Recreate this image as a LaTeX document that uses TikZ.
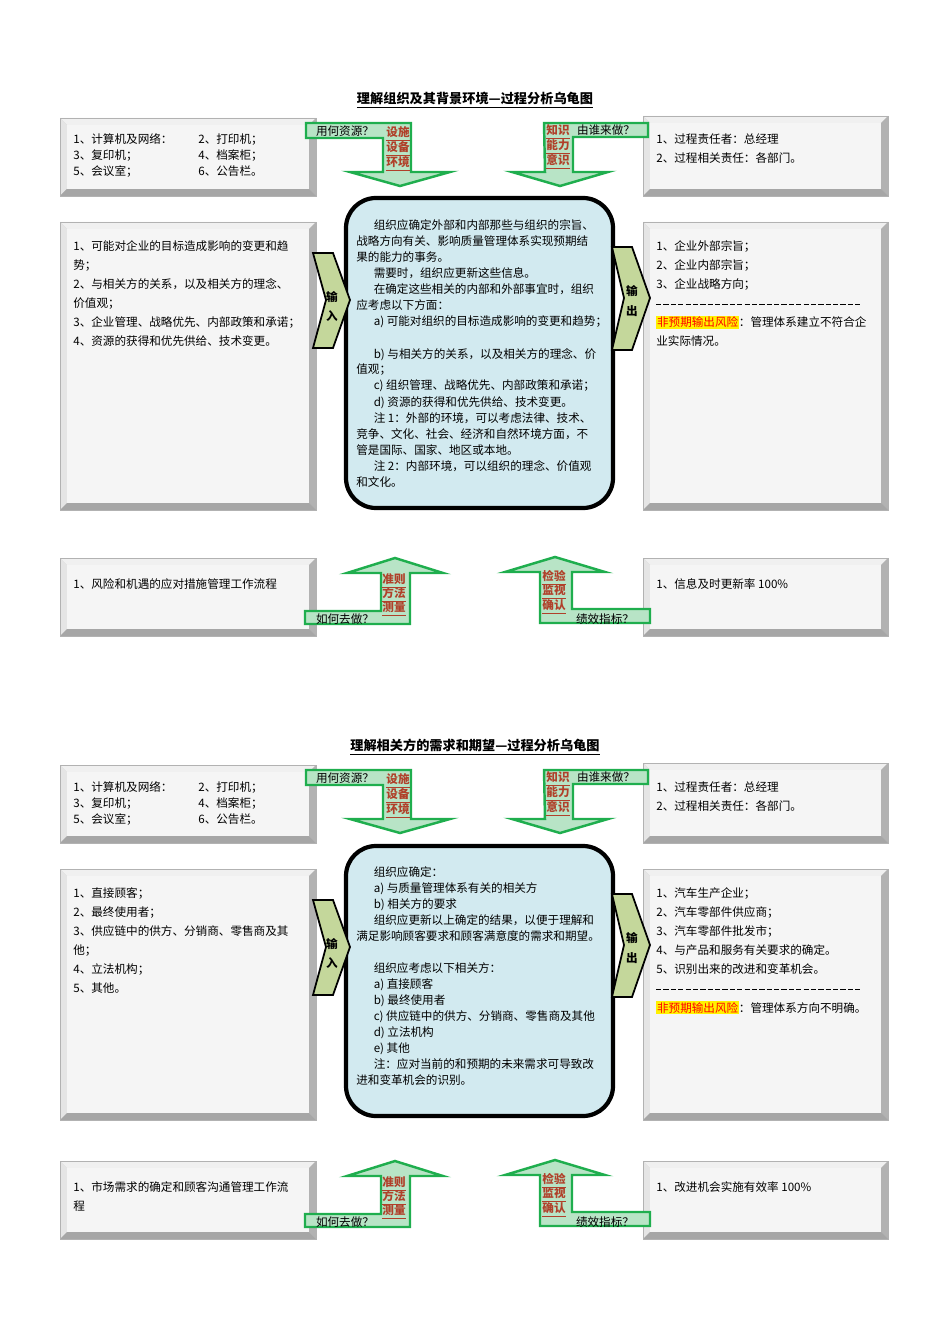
\documentclass[tikz,border=0pt]{standalone}
\usepackage{fontspec}
\setmainfont{Noto Sans CJK SC}
\usepackage{xcolor}
\usetikzlibrary{calc}
\definecolor{gfill}{HTML}{B8E4C6}
\definecolor{gline}{HTML}{1FAE4E}
\definecolor{lbl}{HTML}{B0402A}
\definecolor{cfill}{HTML}{D2EAF0}
\definecolor{ofill}{HTML}{C4D79B}
\begin{document}
\begin{tikzpicture}[x=0.02cm,y=-0.02cm,font=\fontsize{6.6pt}{8pt}\selectfont,
  garrow/.style={fill=gfill,draw=gline,line width=1.4pt,line join=miter},
  chev/.style={fill=ofill,draw=black,line width=1pt},
  cbox/.style={fill=cfill,draw=black,line width=2.4pt,rounded corners=0.6cm},
  tx/.style={anchor=base west,inner sep=0pt},
  lb/.style={inner sep=0pt,text=lbl,font=\fontsize{6.6pt}{8pt}\selectfont\bfseries},
  ttl/.style={inner sep=0pt,font=\fontsize{7.5pt}{9pt}\selectfont\bfseries}]
\useasboundingbox (0,0) rectangle (950,1344);
\newcommand\bev[4]{%
  \fill[gray!45] (#1,#2) rectangle (#3,#4);
  \fill[gray!12] (#1,#2) -- (#3,#2) -- ($(#3,#2)+(-7,7)$) -- ($(#1,#2)+(7,7)$) -- cycle;
  \fill[gray!20] (#1,#2) -- ($(#1,#2)+(7,7)$) -- ($(#1,#4)+(7,-7)$) -- (#1,#4) -- cycle;
  \fill[gray!60] (#3,#2) -- (#3,#4) -- ($(#3,#4)+(-7,-7)$) -- ($(#3,#2)+(-7,7)$) -- cycle;
  \fill[gray!70] (#1,#4) -- (#3,#4) -- ($(#3,#4)+(-7,-7)$) -- ($(#1,#4)+(7,-7)$) -- cycle;
  \fill[gray!8] ($(#1,#2)+(7,7)$) rectangle ($(#3,#4)+(-7,-7)$);
  \draw[gray!60,line width=0.3pt] (#1,#2) rectangle (#3,#4);}
\newcommand\U[1]{\underline{#1}}
\newcommand\toppart{%
  \bev{60}{118}{316}{196}\bev{643}{116}{888}{196}
  \node[tx] at (73,144) {1、计算机及网络：};\node[tx] at (198,144) {2、打印机；};
  \node[tx] at (73,160) {3、复印机；};\node[tx] at (198,160) {4、档案柜；};
  \node[tx] at (73,176) {5、会议室；};\node[tx] at (198,176) {6、公告栏。};
  \node[tx] at (656,144) {1、过程责任者：总经理};
  \node[tx] at (656,163) {2、过程相关责任：各部门。};
  \draw[garrow] (306,123)--(411,123)--(411,172)--(450,172)--(400,186)--(350,172)--(383,172)--(383,138)--(306,138)--cycle;
  \node[inner sep=0pt] (q1) at (345,131) {用何资源？};
  \node[lb] (r1) at (398,134) {\U{设施}};\node[lb] (r2) at (398,149) {\U{设备}};\node[lb] (r3) at (398,164) {\U{环境}};
  \draw[garrow] (544,123)--(648,123)--(648,137)--(573,137)--(573,172)--(608,172)--(560,186)--(512,172)--(545,172)--cycle;
  \node[inner sep=0pt] (q2) at (606,130) {由谁来做？};
  \node[lb] (k1) at (558,132) {\U{知识}};\node[lb] (k2) at (558,147) {\U{能力}};\node[lb] (k3) at (558,162) {\U{意识}};
  \draw[chev] (313,253)--(333,253)--(350,300)--(333,348)--(313,348)--(326,300)--cycle;
  \node[inner sep=0pt,font=\fontsize{6.6pt}{8pt}\selectfont\bfseries] (in1) at (332,297) {输};
  \node[inner sep=0pt,font=\fontsize{6.6pt}{8pt}\selectfont\bfseries] (in2) at (332,316) {入};
  \draw[chev] (612,247)--(632,247)--(650,298)--(632,350)--(612,350)--(624,298)--cycle;
  \node[inner sep=0pt,font=\fontsize{6.6pt}{8pt}\selectfont\bfseries] (out1) at (632,291) {输};
  \node[inner sep=0pt,font=\fontsize{6.6pt}{8pt}\selectfont\bfseries] (out2) at (632,311) {出};
}
\newcommand\botpart[2]{%
  \bev{60}{558}{316}{636}\bev{643}{558}{888}{636}
  \draw[garrow] (395,558)--(443,573)--(410,573)--(410,624)--(305,624)--(305,611)--(381,611)--(381,573)--(347,573)--cycle;
  \node[lb] (m1) at (394,581) {\U{准则}};\node[lb] (m2) at (394,595) {\U{方法}};\node[lb] (m3) at (394,609) {\U{测量}};
  \node[inner sep=0pt] (q3) at (345,619) {如何去做？};
  \draw[garrow] (555,557)--(605,572)--(572,572)--(572,609)--(650,609)--(650,623)--(540,623)--(540,572)--(505,572)--cycle;
  \node[lb] (c1) at (554,578) {\U{检验}};\node[lb] (c2) at (554,592) {\U{监视}};\node[lb] (c3) at (554,607) {\U{确认}};
  \node[inner sep=0pt] (q4) at (605,619) {绩效指标？};
  #1
  \node[tx] at (656,588) {#2};
}
\newcommand\risk{\setlength\fboxsep{0.4pt}\colorbox{yellow}{\textcolor{red}{非预期输出风险}}：}
% ---------------- section 1
\node[ttl] (t1) at (475,100) {\U{理解组织及其背景环境—过程分析乌龟图}};
\bev{60}{222}{316}{510}\bev{643}{222}{888}{510}
\draw[cbox] (346,198) rectangle (613,508);
\toppart
\botpart{\node[tx] at (73,588) {1、风险和机遇的应对措施管理工作流程};}{1、信息及时更新率 100\%}
\foreach \t [count=\i from 0] in {1、可能对企业的目标造成影响的变更和趋,势；,2、与相关方的关系，以及相关方的理念、,价值观；,3、企业管理、战略优先、内部政策和承诺；,4、资源的获得和优先供给、技术变更。}
  \node[tx] at (73,251+19*\i) {\t};
\foreach \t [count=\i from 0] in {1、企业外部宗旨；,2、企业内部宗旨；,3、企业战略方向；}
  \node[tx] at (656,251+19*\i) {\t};
\draw[dash pattern=on 3pt off 1.2pt,line width=0.4pt] (656,304) -- (860,304);
\node[tx] at (656,327) {\risk 管理体系建立不符合企};
\node[tx] at (656,346) {业实际情况。};
\foreach \t [count=\i from 0] in {\hspace*{1.5em}组织应确定外部和内部那些与组织的宗旨、,战略方向有关、影响质量管理体系实现预期结,果的能力的事务。,\hspace*{1.5em}需要时，组织应更新这些信息。,\hspace*{1.5em}在确定这些相关的内部和外部事宜时，组织,应考虑以下方面：,\hspace*{1.5em}a) 可能对组织的目标造成影响的变更和趋势；,,\hspace*{1.5em}b) 与相关方的关系，以及相关方的理念、价,值观；,\hspace*{1.5em}c) 组织管理、战略优先、内部政策和承诺；,\hspace*{1.5em}d) 资源的获得和优先供给、技术变更。,\hspace*{1.5em}注 1：外部的环境，可以考虑法律、技术、,竞争、文化、社会、经济和自然环境方面，不,管是国际、国家、地区或本地。,\hspace*{1.5em}注 2：内部环境，可以组织的理念、价值观,和文化。}
  \node[tx] at (356,230+16*\i) {\t};
% ---------------- section 2
\node[ttl] (t2) at (475,747) {\U{理解相关方的需求和期望—过程分析乌龟图}};
\bev{60}{869}{316}{1120}\bev{643}{869}{888}{1120}
\draw[cbox] (346,846) rectangle (613,1116);
\begin{scope}[shift={(0,647)}]\toppart\end{scope}
\begin{scope}[shift={(0,603)}]
\botpart{\node[tx] at (73,588) {1、市场需求的确定和顾客沟通管理工作流};\node[tx] at (73,607) {程};}{1、改进机会实施有效率 100\%}
\end{scope}
\foreach \t [count=\i from 0] in {1、直接顾客；,2、最终使用者；,3、供应链中的供方、分销商、零售商及其,他；,4、立法机构；,5、其他。}
  \node[tx] at (73,897+19*\i) {\t};
\foreach \t [count=\i from 0] in {1、汽车生产企业；,2、汽车零部件供应商；,3、汽车零部件批发市；,4、与产品和服务有关要求的确定。,5、识别出来的改进和变革机会。}
  \node[tx] at (656,897+19*\i) {\t};
\draw[dash pattern=on 3pt off 1.2pt,line width=0.4pt] (656,989) -- (860,989);
\node[tx] at (656,1012) {\risk 管理体系方向不明确。};
\foreach \t [count=\i from 0] in {\hspace*{1.5em}组织应确定：,\hspace*{1.5em}a) 与质量管理体系有关的相关方,\hspace*{1.5em}b) 相关方的要求,\hspace*{1.5em}组织应更新以上确定的结果，以便于理解和,满足影响顾客要求和顾客满意度的需求和期望。,,\hspace*{1.5em}组织应考虑以下相关方：,\hspace*{1.5em}a) 直接顾客,\hspace*{1.5em}b) 最终使用者,\hspace*{1.5em}c) 供应链中的供方、分销商、零售商及其他,\hspace*{1.5em}d) 立法机构,\hspace*{1.5em}e) 其他,\hspace*{1.5em}注：应对当前的和预期的未来需求可导致改,进和变革机会的识别。}
  \node[tx] at (356,876+16*\i) {\t};
\end{tikzpicture}
\end{document}
